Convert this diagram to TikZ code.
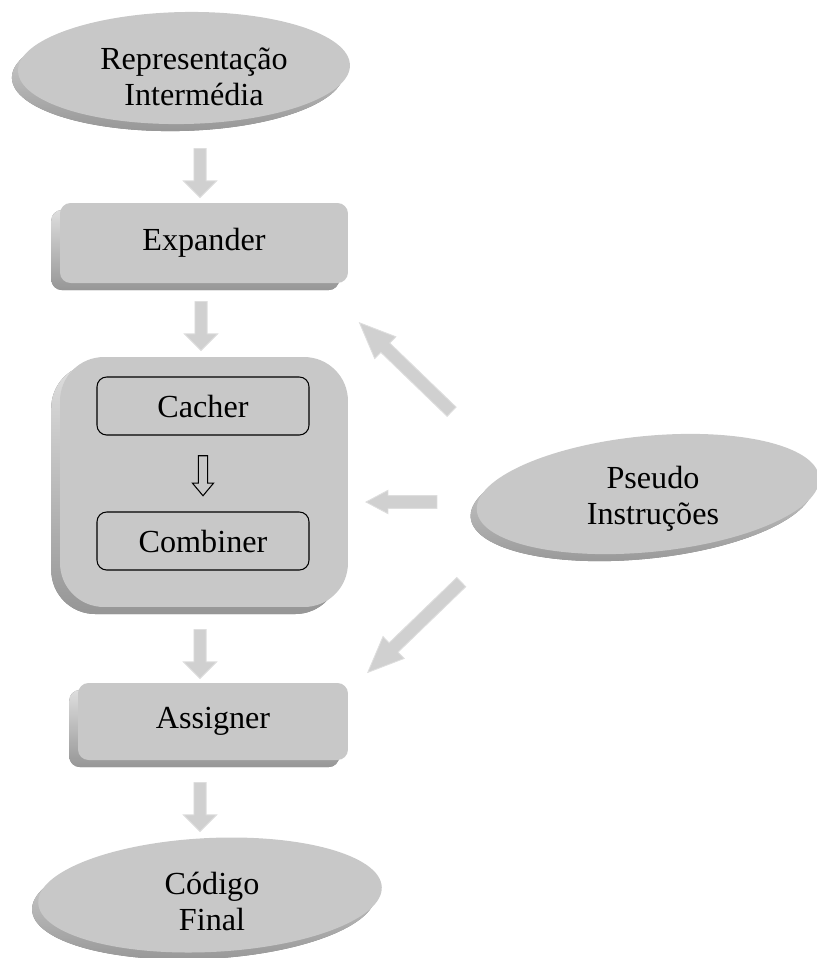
\documentclass[tikz,border=0pt]{standalone}
\usepackage{fontspec}
\setmainfont{Liberation Serif}
\usetikzlibrary{shapes.geometric,shapes.arrows,shadows}

\definecolor{facegray}{RGB}{200,200,200}
\definecolor{rimlight}{RGB}{222,222,222}
\definecolor{rimdark}{RGB}{150,150,150}
\definecolor{arrowgray}{RGB}{208,208,208}
\definecolor{arrowedge}{RGB}{222,222,222}

\tikzset{
  x=0.02cm, y=-0.02cm,
  txtfont/.style={font=\fontsize{18.3pt}{20.5pt}\selectfont},
  lbl/.style={txtfont, align=center, inner sep=0pt},
  bevel/.style={drop shadow={shadow xshift=#1, shadow yshift=-4pt, opacity=1,
      top color=rimlight, bottom color=rimdark}},
  oval/.style={ellipse, fill=facegray, inner sep=0pt, bevel=-3.5pt},
  stage/.style={rectangle, fill=facegray, inner sep=0pt, bevel=-5pt, txtfont},
  sub/.style={rectangle, draw=black, line width=0.6pt, rounded corners=5.5pt,
      inner sep=0pt, minimum width=4.24cm, minimum height=1.16cm, txtfont},
  blockarrow/.style={single arrow, fill=arrowgray, draw=arrowedge, line width=0.5pt,
      inner xsep=0pt, inner ysep=#1, minimum height=0.98cm},
  downarrow/.style={blockarrow=3.2pt, single arrow head extend=6pt,
      single arrow tip angle=90, rotate=-90},
}

\begin{document}
\begin{tikzpicture}
\useasboundingbox (0,0) rectangle (817,958);

% ovals for input, side input and output
\node[oval, minimum width=6.64cm, minimum height=2.24cm, rotate=1] (rep) at (184,68) {};
\node[lbl] (repT) at (194,77) {Representação\\Intermédia};

\node[oval, minimum width=6.88cm, minimum height=2.32cm, rotate=5.6] (pseudo) at (648,494) {};
\node[lbl] (pseudoT) at (653,499) {Pseudo\\Instruções};

\node[oval, minimum width=6.88cm, minimum height=2.28cm, rotate=2.7] (code) at (210,895) {};
\node[lbl] (codeT) at (212,901) {Código\\Final};

% processing stages
\node[stage, rounded corners=6pt, minimum width=5.76cm, minimum height=1.6cm] (exp) at (204,243) {Expander};
\node[stage, rounded corners=25pt, minimum width=5.76cm, minimum height=5.0cm] (opt) at (204,482) {};
\node[sub] (cach) at (203,406) {Cacher};
\node[sub] (comb) at (203,541) {Combiner};
\node[stage, rounded corners=6pt, minimum width=5.4cm, minimum height=1.54cm] (asg) at (213,721.5) {Assigner};

% hollow arrow between cacher and combiner
\node[single arrow, draw=black, line width=0.6pt, fill=facegray, inner xsep=0pt, inner ysep=2.3pt,
      single arrow head extend=3.4pt, single arrow tip angle=80, minimum height=0.8cm,
      rotate=-90] (cc) at (203,473) {};

% block arrows along the main flow
\node[downarrow] (a1) at (200,170) {};
\node[downarrow] (a2) at (201,323) {};
\node[downarrow] (a3) at (200,651) {};
\node[downarrow] (a4) at (200,804) {};

% block arrows from the pseudo instructions
\node[blockarrow=3.4pt, single arrow head extend=5pt, single arrow tip angle=46,
      minimum height=2.56cm, rotate=136] (p1) at (411,372.5) {};
\node[blockarrow=3.4pt, single arrow head extend=3pt, single arrow tip angle=56,
      minimum height=1.42cm, rotate=180] (p2) at (407.5,502) {};
\node[blockarrow=3.4pt, single arrow head extend=5pt, single arrow tip angle=46,
      minimum height=2.6cm, rotate=224] (p3) at (420,622) {};
\end{tikzpicture}
\end{document}
